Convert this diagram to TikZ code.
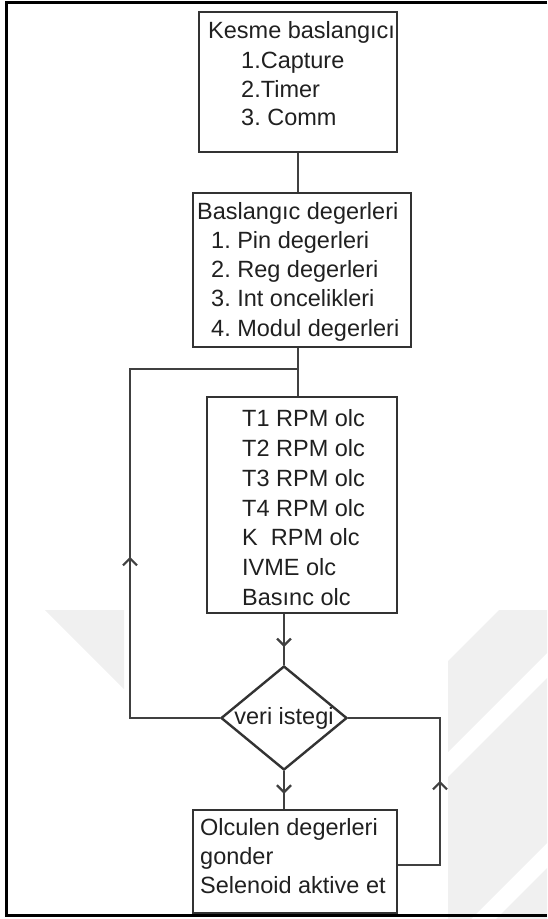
\documentclass[tikz,border=0pt]{standalone}
\usepackage{fontspec}
\setmainfont{Liberation Sans}
\frenchspacing
\usetikzlibrary{arrows.meta,decorations.markings,shapes.geometric}
\definecolor{boxline}{HTML}{333333}
\definecolor{linkline}{HTML}{404040}
\definecolor{ink}{HTML}{202020}
\definecolor{wmgray}{HTML}{F0F0F0}
\begin{document}
\begin{tikzpicture}[x=1pt,y=-1pt,
  box/.style={draw=boxline,line width=2.4pt,inner sep=0pt},
  txt/.style={anchor=base west,inner sep=0pt,text=ink,font=\fontsize{23.5}{28}\selectfont},
  link/.style={draw=linkline,line width=2.6pt},
  midarrow/.style={postaction={decorate,decoration={markings,
      mark=at position #1 with {\arrow{Straight Barb[length=7pt,width=14pt,line width=2.2pt]}}}}}
]
\useasboundingbox (0,0) rectangle (547,919);

% faint background watermark bands
\fill[wmgray] (45,610) -- (124,610) -- (124,689) -- cycle;
\begin{scope}
  \clip (448,610) rectangle (547,919);
  \fill[wmgray] (448,661) -- (448,752) -- (547,653) -- (547,562) -- cycle;
  \fill[wmgray] (448,777) -- (448,942) -- (547,843) -- (547,678) -- cycle;
  \fill[wmgray] (448,967) -- (547,868) -- (547,1000) -- (448,1000) -- cycle;
\end{scope}

% page frame
\draw[black,line width=3pt] (547,2.5) -- (6,2.5) -- (6,915.5) -- (547,915.5);

% boxes
\node[box,minimum width=198pt,minimum height=140pt] (b1) at (298,82) {};
\node[box,minimum width=218pt,minimum height=154pt] (b2) at (302,270) {};
\node[box,minimum width=190pt,minimum height=216pt] (b3) at (302,505) {};
\node[box,minimum width=204pt,minimum height=103pt] (b4) at (295,861.5) {};
\node[draw=boxline,line width=2.4pt,shape=diamond,inner sep=0pt,aspect=1.21,
      minimum width=126pt,minimum height=104pt,text=ink,
      font=\fontsize{23.5}{28}\selectfont] (dia) at (284,718) {veri istegi};

% box texts
\begin{scope}
  \clip (199,12) rectangle (396,152);
  \foreach \px/\py/\lbl [count=\i] in {208/38/Kesme baslangıcı, 241/68/1.Capture,
      241/97/2.Timer, 241/125/3. Comm}
    \node[txt] (ta\i) at (\px,\py) {\lbl};
\end{scope}
\foreach \px/\py/\lbl [count=\i] in {197/219/Baslangıc degerleri, 211/248/1. Pin degerleri,
    211/277/2. Reg degerleri, 211/306/3. Int oncelikleri, 211/336/4. Modul degerleri}
  \node[txt] (tb\i) at (\px,\py) {\lbl};
\foreach \py/\lbl [count=\i] in {426/T1 RPM olc, 456/T2 RPM olc, 486/T3 RPM olc,
    516/T4 RPM olc, 545/K\ \ RPM olc, 575/IVME olc, 605/Basınc olc}
  \node[txt] (tc\i) at (242,\py) {\lbl};
\foreach \py/\lbl [count=\i] in {835/Olculen degerleri, 864/gonder, 893/Selenoid aktive et}
  \node[txt] (td\i) at (200,\py) {\lbl};

% connectors
\coordinate (j) at (298,369);
\coordinate (l1) at (130,718);
\coordinate (l2) at (130,369);
\coordinate (r1) at (440,865);
\coordinate (r2) at (440,718);

\draw[link] (b1.south -| j) -- (b2.north -| j);
\draw[link] (b2.south -| j) -- (b3.north -| j);
\draw[link,midarrow=251pt] (dia.west) -- (l1) -- (l2) -- (j);
\draw[link,midarrow=0.65] (b3.south -| dia.north) -- (dia.north);
\draw[link,midarrow=0.6] (dia.south) -- (b4.north -| dia.south);
\draw[link,midarrow=126pt] (b4.east |- r1) -- (r1) -- (r2) -- (dia.east);
\end{tikzpicture}
\end{document}
